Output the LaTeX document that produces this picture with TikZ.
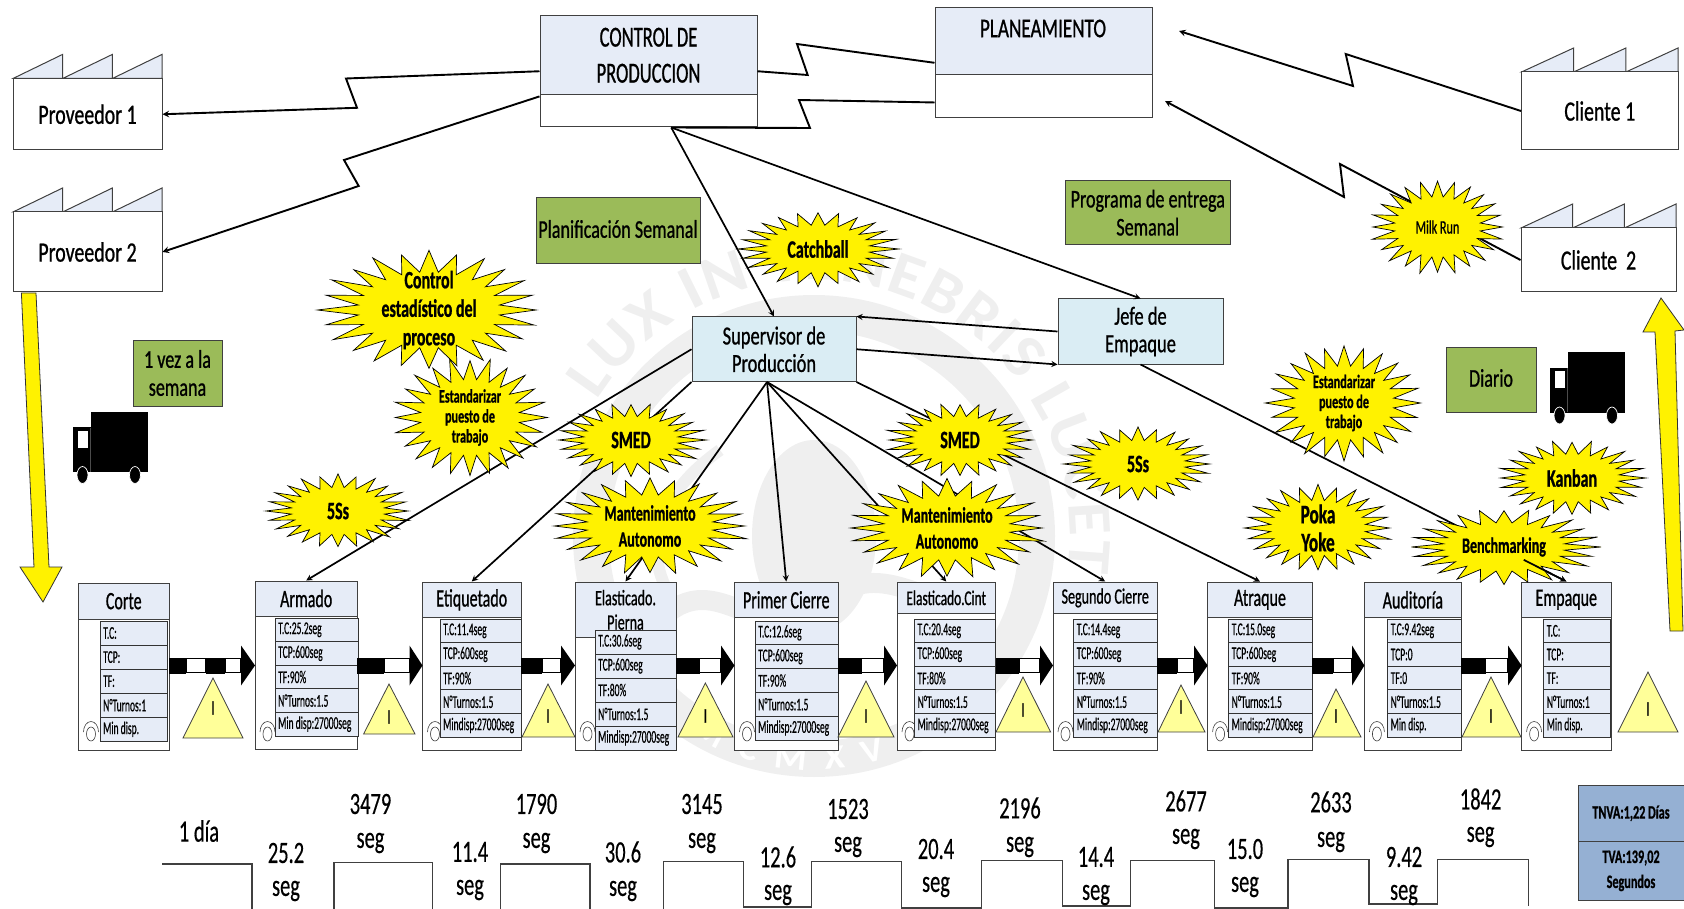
\documentclass[tikz,border=0pt]{standalone}
\usepackage{fontspec}
\setmainfont{Carlito}[FakeStretch=0.64,FakeBold=0.8]
\newfontfamily\widefont{Carlito}[FakeStretch=0.71,FakeBold=0.8]
\newfontfamily\timefont{Carlito}[FakeStretch=0.66,FakeBold=0.4]
\newfontfamily\tblfont{Carlito}[FakeStretch=0.53,FakeBold=0.4]
\newfontfamily\wmfont{Carlito}[FakeStretch=1.1]
\usepackage{xcolor}
\usepackage{tikz}
\usetikzlibrary{shapes,arrows,positioning,fit,calc,decorations.text}

\definecolor{headblue}{HTML}{E6ECF7}
\definecolor{suplblue}{HTML}{DAEDF4}
\definecolor{boxgreen}{HTML}{9BBB59}
\definecolor{trianglefill}{HTML}{FFFF99}
\definecolor{sumblue}{HTML}{95B0D3}
\definecolor{markgray}{HTML}{EFEFEF}
\definecolor{edgegray}{HTML}{404040}

\newcommand{\fs}[2]{\fontsize{#1}{#2}\selectfont}

\tikzset{
  boxnode/.style={draw=edgegray, line width=1pt, inner sep=0pt, align=center},
  whitebox/.style={boxnode, fill=white},
  headbox/.style={boxnode, fill=headblue},
  suplbox/.style={boxnode, fill=suplblue},
  greenbox/.style={boxnode, fill=boxgreen},
  tagtext/.style={inner sep=0pt, align=center},
  supltext/.style={tagtext, font=\widefont\fs{26}{27.5}},
  greentext/.style={tagtext, font=\widefont\fs{25.5}{28}},
  rowbox/.style={draw=black!80, line width=1pt, fill=headblue, inner sep=0pt},
  rowtext/.style={anchor=west, inner sep=0pt, xshift=3.5pt, font=\tblfont\fs{18}{18}},
  sumbox/.style={boxnode, fill=sumblue},
  sumtext/.style={tagtext, font=\bfseries\fs{19}{25}},
  flow/.style={line width=1.7pt, -stealth},
  zigline/.style={line width=1.9pt},
  burstbox/.style={draw=black, line width=.7pt, fill=yellow, line join=miter},
  burstword/.style={align=center, inner sep=0pt},
  bigarrow/.style={draw=black!80, line width=.8pt, fill=yellow},
  invbox/.style={draw=edgegray, line width=.8pt, fill=trianglefill},
  timeline/.style={draw=edgegray, line width=1.1pt},
  timetext/.style={inner sep=0pt, font=\timefont\fs{31}{31}}
}

% factory with saw roof
\newcommand{\factory}[7]{
  \draw[boxnode, fill=headblue] (#2,#5) -- ({#2+(#3-#2)*0.333},#4) -- ({#2+(#3-#2)*0.333},#5)
    -- ({#2+(#3-#2)*0.667},#4) -- ({#2+(#3-#2)*0.667},#5) -- (#3,#4) -- (#3,#5) -- cycle;
  \node[whitebox, fit={(#2,#5) (#3,#6)}] (#1) {};
  \node[tagtext, font=\widefont\fs{28}{28}] (#1txt) at (#1) {#7};
}

% process box, title on top
\newcommand{\procbox}[8]{
  \node[whitebox, fit={(#2,#4) (#3,#6)}] (#1) {};
  \node[headbox, fit={(#2,#4) (#3,#5)}] (#1head) {};
  \node[tagtext, font=\fs{#7}{24.4}] (#1title) at (#1head) {#8};
  \draw[edgegray, line width=.6pt] ({#2+12.5},734) ellipse [x radius=4.5, y radius=7];
  \draw[edgegray, line width=.6pt] ({#2+5},732) arc [start angle=180, end angle=0, x radius=7.5, y radius=-10.5];
}

% five rows of data
\newcommand{\proctable}[6]{
  \foreach \val [count=\i] in {#6} {
    \node[rowbox, fit={(#2,{#4+(\i-1)*#5}) (#3,{#4+\i*#5})}] (#1row\i) {};
    \node[rowtext] (#1txt\i) at (#1row\i.west) {\val};
  }
}

% star with its words
\newcommand{\burst}[9]{
  \draw[burstbox] plot[samples at={0,...,47}, variable=\k]
    ({#2+0.5*#4*(mod(\k,2)<0.5?1-0.06*abs(sin(\k*137+#6*40)):0.63)*cos(\k*7.5)},
     {#3+0.5*#5*(mod(\k,2)<0.5?1-0.06*abs(sin(\k*137+#6*40)):0.63)*sin(\k*7.5)}) -- cycle;
  \node[burstword, font={\bfseries\fs{#7}{#8}}] (#1) at (#2,#3) {#9};
}

% striped arrow
\newcommand{\pusharrow}[3]{
  \fill[black] (#1,657.5) rectangle (#2,673.5);
  \draw[black, line width=1.2pt, fill=white] (#2,658.5) rectangle (#3,672.5);
}
\newcommand{\pushhead}[2]{
  \fill[black] (#1,645.5) -- (#2,665.5) -- (#1,685.5) -- cycle;
}

% inventory triangle
\newcommand{\invmark}[5]{
  \draw[invbox] (#2,#5) -- (#3,#4) -- (#1,#5) -- cycle;
}

% delivery truck
\newcommand{\truck}[2]{
  \begin{scope}[shift={(#1,#2)}]
    \fill[black] (18,0) rectangle (75,60.5);
    \fill[black] (0,15.5) rectangle (18,60.5);
    \fill[white] (4.5,19) rectangle (15,36);
    \draw[black!70, line width=.5pt] (17.5,16) -- (17.5,60);
    \draw[white, line width=.7pt, fill=black] (9.5,63.5) ellipse [x radius=5.5, y radius=8.5];
    \draw[white, line width=.7pt, fill=black] (62,63.5) ellipse [x radius=5.5, y radius=8.5];
  \end{scope}
}

\begin{document}
\begin{tikzpicture}[x=1pt, y=-1pt]
  \useasboundingbox (0,0) rectangle (1684,909);
  \clip (0,0) rectangle (1684,909);

  % seal behind everything
  \draw[markgray, line width=36pt] (814,536) circle [radius=223];
  \fill[markgray] (814,536) ellipse [x radius=62, y radius=96];
  \draw[markgray, line width=20pt] (660,620) .. controls (720,560) and (760,660) .. (830,600) .. controls (890,550) and (940,630) .. (990,590);
  \draw[markgray, line width=12pt] (720,450) .. controls (650,500) and (640,560) .. (680,610);
  \path[decorate, decoration={text along path, text align={fit to path}, text={|\wmfont\bfseries\fs{62}{62}\color{markgray}|LUX IN TENEBRIS LUCET}}]
    (814,536) ++(212:256) arc [start angle=212, end angle=368, radius=256];
  \path[decorate, decoration={text along path, text align={fit to path}, text={|\wmfont\bfseries\fs{34}{34}\color{white}|MCMXVII}}]
    (814,536) ++(122:234) arc [start angle=122, end angle=58, radius=234];

  % top boxes
  \node[whitebox, fit={(540,15.5) (757,127)}] (ctrl) {};
  \node[headbox, fit={(540,15.5) (757,95)}] (ctrlhead) {};
  \node[tagtext, font=\fs{29}{36}] (ctrltext) at (ctrlhead) {CONTROL DE\\PRODUCCION};
  \node[whitebox, fit={(935,7.6) (1152,118)}] (plan) {};
  \node[headbox, fit={(935,7.6) (1152,74.4)}] (planhead) {};
  \node[tagtext, font=\widefont\fs{27}{27}] (plantext) at (1043,28.5) {PLANEAMIENTO};

  \factory{prov1}{13}{162}{54.4}{78.5}{150}{Proveedor 1}
  \factory{prov2}{13}{162}{188}{212}{292}{Proveedor 2}
  \factory{cli1}{1521.5}{1678}{48}{72}{150}{Cliente 1}
  \factory{cli2}{1521}{1676}{204}{228}{292}{Cliente\ \ 2}

  \node[suplbox, fit={(692,317) (856,381.5)}] (sup) {};
  \node[supltext] (suptext) at (sup) {Supervisor de\\Producción};
  \node[suplbox, fit={(1058,299) (1223,364)}] (jefe) {};
  \node[supltext] (jefetext) at (jefe) {Jefe de\\Empaque};

  \node[greenbox, fit={(536,198) (700,264)}] (planif) {};
  \node[greentext] (planiftext) at (618,229) {Planificación Semanal};
  \node[greenbox, fit={(133,340) (222,406)}] (vez) {};
  \node[greentext] (veztext) at (vez) {1 vez a la\\semana};
  \node[greenbox, fit={(1065.5,180.4) (1230,245)}] (prog) {};
  \node[greentext] (progtext) at (prog) {Programa de entrega\\Semanal};
  \node[greenbox, fit={(1446.5,347) (1536,412)}] (diario) {};
  \node[greentext] (diariotext) at (1491,378) {Diario};

  % process row
  \procbox{corte}{78.5}{169}{583.3}{619}{750}{25}{Corte}
  \procbox{arm}{255}{357.4}{581}{616}{749}{25}{Armado}
  \procbox{etiq}{422.5}{521}{582}{617.7}{750}{25}{Etiquetado}
  \procbox{elap}{575}{676}{582}{637.7}{750}{22}{Elasticado.\\Pierna}
  \procbox{prim}{734.5}{838}{582}{617.7}{750}{25}{Primer Cierre}
  \procbox{elac}{897}{995.5}{582}{613.7}{750}{21}{Elasticado.Cint}
  \procbox{segu}{1053}{1157.4}{582}{613.7}{750}{22}{Segundo Cierre}
  \procbox{atra}{1207.6}{1312.3}{582}{617.7}{750}{25}{Atraque}
  \procbox{audi}{1364.4}{1461.3}{582}{617.7}{750}{25}{Auditoría}
  \procbox{empa}{1521.6}{1611}{582}{617.7}{750}{25}{Empaque}

  \proctable{corte}{100}{167.6}{621}{24.06}{T.C:,TCP:,TF:,N°Turnos:1,Min disp.}
  \proctable{arm}{275}{358.6}{618}{23.6}{T.C:25.2seg,TCP:600seg,TF:90\%,N°Turnos:1.5,Min disp:27000seg}
  \proctable{etiq}{440}{521}{619}{23.66}{T.C:11.4seg,TCP:600seg,TF:90\%,N°Turnos:1.5,Mindisp:27000seg}
  \proctable{elap}{595}{676}{630}{24}{T.C:30.6seg,TCP:600seg,TF:80\%,N°Turnos:1.5,Mindisp:27000seg}
  \proctable{prim}{755}{838}{621}{23.8}{T.C:12.6seg,TCP:600seg,TF:90\%,N°Turnos:1.5,Mindisp:27000seg}
  \proctable{elac}{914.4}{995.5}{619}{23.66}{T.C:20.4seg,TCP:600seg,TF:80\%,N°Turnos:1.5,Mindisp:27000seg}
  \proctable{segu}{1073.6}{1157.4}{619}{23.66}{T.C:14.4seg,TCP:600seg,TF:90\%,N°Turnos:1.5,Mindisp:27000seg}
  \proctable{atra}{1228.5}{1312.3}{619}{23.66}{T.C:15.0seg,TCP:600seg,TF:90\%,N°Turnos:1.5,Mindisp:27000seg}
  \proctable{audi}{1387.5}{1461.3}{619}{23.66}{T.C:9.42seg,TCP:0,TF:0,N°Turnos:1.5,Min disp.}
  \proctable{empa}{1543.6}{1610}{619}{23.66}{T.C:,TCP:,TF:,N°Turnos:1,Min disp.}

  % striped arrows
  \pusharrow{169}{186}{206}
  \pusharrow{206}{225}{241}
  \pushhead{241}{255}
  \foreach \xa/\xb/\xc/\xd in {357.4/384/409.5/422.5, 521/542/561/575, 676/699.7/721/734.5, 838/861.6/884/897,
      995.5/1019/1040/1053, 1157.4/1177/1194/1207.6, 1312.3/1333/1352/1364.4, 1461.3/1485.5/1508/1521.6} {
    \pusharrow{\xa}{\xb}{\xc}
    \pushhead{\xc}{\xd}
  }

  % inventory triangles
  \foreach \xa/\xb/\xc/\ya/\yb/\yc [count=\n] in {183/213/243/678/738/708, 363.6/389/415/684/734/717, 522/548/575/684/737/716, 678/705.4/733/683/737/716, 838/866/894/681/737/716,
      996/1023/1050.6/677/732/710, 1158/1181/1205/685/732/707, 1313/1336/1361/689/737/716, 1462/1491/1521/677/737/716, 1618/1648/1678/672/732/709} {
    \invmark{\xc}{\xa}{\xb}{\ya}{\yb}
    \node[tagtext, font=\fs{21}{21}] (inv\n) at (\xb,\yc) {I};
  }

  % zigzag lines
  \draw[zigline, -stealth] (ctrl.west) -- (346,78.5) -- (357,107.8) -- (prov1.east);
  \draw[zigline, -stealth] (ctrl.193) -- (344,160) -- (358.7,186) -- (prov2.east);
  \draw[zigline] (ctrl.east) -- (807.7,75) -- (797,44) -- (plan.west);
  \draw[zigline] (ctrl.-68) -- (810,128) -- (799,100) -- (plan.200);
  \coordinate (planin1) at (1179,31);
  \coordinate (planin2) at (1165,101);
  \draw[zigline, -stealth] (cli1.west) -- (1345.7,54) -- (1353,86) -- (planin1);
  \draw[zigline, -stealth] (cli2.west) -- (1340,164) -- (1344,197) -- (planin2);

  % control and supervisor lines
  \draw[flow] (ctrl.-68) -- (sup.north);
  \draw[flow] (ctrl.-68) -- (jefe.north);
  \draw[flow] (jefe.west) -- (sup.north east);
  \draw[flow] (sup.east) -- (jefe.south west);
  \draw[flow] (sup.west) -- (armhead.north);
  \draw[flow] (sup.south west) -- (etiqhead.north);
  \draw[flow] (sup.-102) -- (elaphead.north);
  \draw[flow] (sup.-102) -- (primhead.north);
  \draw[flow] (sup.-102) -- (elachead.north);
  \draw[flow] (sup.-102) -- (seguhead.north);
  \draw[flow] (sup.south east) -- (atrahead.north);
  \draw[flow] (jefe.south) -- (empahead.north);

  % yellow arrows
  \draw[bigarrow] (21.4,293) -- (36,293) -- (49,567) -- (62,567) -- (43,602) -- (20,567) -- (34,567) -- cycle;
  \draw[bigarrow] (1661,298) -- (1684,330) -- (1675,331) -- (1683,631) -- (1670,631) -- (1655,332) -- (1643,332) -- cycle;

  \truck{73}{411.5}
  \truck{1550}{352}

  % stars
  \burst{ctlest}{429}{310}{226}{121}{3}{25}{28.5}{Control\\estadístico del\\proceso}
  \burst{estleft}{470}{417.5}{158}{121}{5}{19}{20}{Estandarizar\\puesto de\\trabajo}
  \burst{fiveleft}{338}{511}{149}{75}{7}{25}{25}{5Ss}
  \burst{smedleft}{631}{440}{151}{75}{9}{25}{25}{SMED}
  \burst{mantleft}{650}{526}{201}{99}{11}{22}{26}{Mantenimiento\\Autonomo}
  \burst{catch}{818}{249}{165}{76}{13}{25}{25}{Catchball}
  \burst{milk}{1437.5}{227}{137}{96}{15}{19}{19}{\mdseries Milk Run}
  \burst{estright}{1344}{403}{159}{118}{17}{19}{20}{Estandarizar\\puesto de\\trabajo}
  \burst{smedright}{960}{440}{151}{75}{19}{25}{25}{SMED}
  \burst{fiveright}{1138}{464}{151}{75}{21}{25}{25}{5Ss}
  \burst{kanban}{1572}{478}{151}{76}{23}{25}{25}{Kanban}
  \burst{poka}{1318}{528}{152}{88}{25}{27}{28}{Poka\\Yoke}
  \burst{bench}{1504}{547}{194}{77}{27}{22}{22}{Benchmarking}
  \burst{mantright}{947}{528}{202}{102}{29}{22}{26}{Mantenimiento\\Autonomo}
  \draw[flow] ($(jefe.south)!0.9!(empahead.north)$) -- (empahead.north);

  % lead time line
  \draw[timeline] (162,864) -- (252,864) -- (252,909);
  \draw[timeline] (334,909) -- (334,862.7) -- (432.5,862.7) -- (432.5,909);
  \draw[timeline] (500.6,909) -- (500.6,864) -- (590,864) -- (590,909);
  \draw[timeline] (663.3,909) -- (663.3,861.7) -- (743.7,861.7) -- (743.7,907) -- (811.8,907) -- (811.8,861.7) -- (901.4,861.7) -- (901.4,908)
    -- (981.7,908) -- (981.7,860.7) -- (1062.5,860.7) -- (1062.5,906) -- (1130.5,906) -- (1130.5,860.7) -- (1214.3,860.7) -- (1214.3,908)
    -- (1288,908) -- (1288,859.3) -- (1369,859.3) -- (1369,904) -- (1437.8,904) -- (1437.8,859.3) -- (1528.3,859.3) -- (1528.3,906);

  \node[timetext] (t0) at (199,831) {1 día};
  \foreach \tx/\ta/\tb/\lbl [count=\n] in {286/853/891/25.2, 470/852/890/11.4, 623/852/891/30.6, 778/857/895/12.6, 936/849/887/20.4,
      1096/857/895/14.4, 1245/849/887/15.0, 1404/857/895/9.42} {
    \node[timetext] (vat\n) at (\tx,\ta) {\lbl};
    \node[timetext] (vas\n) at (\tx,\tb) {seg};
  }
  \foreach \tx/\ta/\tb/\lbl [count=\n] in {370.5/804/843/3479, 536.5/804/843/1790, 702/804/843/3145, 848/809/847/1523, 1020/808/847/2196,
      1186/801/839/2677, 1331/802/842/2633, 1480.6/799/837/1842} {
    \node[timetext] (nvt\n) at (\tx,\ta) {\lbl};
    \node[timetext] (nvs\n) at (\tx,\tb) {seg};
  }

  \node[sumbox, fit={(1578,785) (1684,841.7)}] (tnva) {};
  \node[sumtext] (tnvatext) at (tnva) {TNVA:1,22 Días};
  \node[sumbox, fit={(1578,841.7) (1684,900)}] (tva) {};
  \node[sumtext] (tvatext) at (tva) {TVA:139,02\\Segundos};
\end{tikzpicture}
\end{document}
